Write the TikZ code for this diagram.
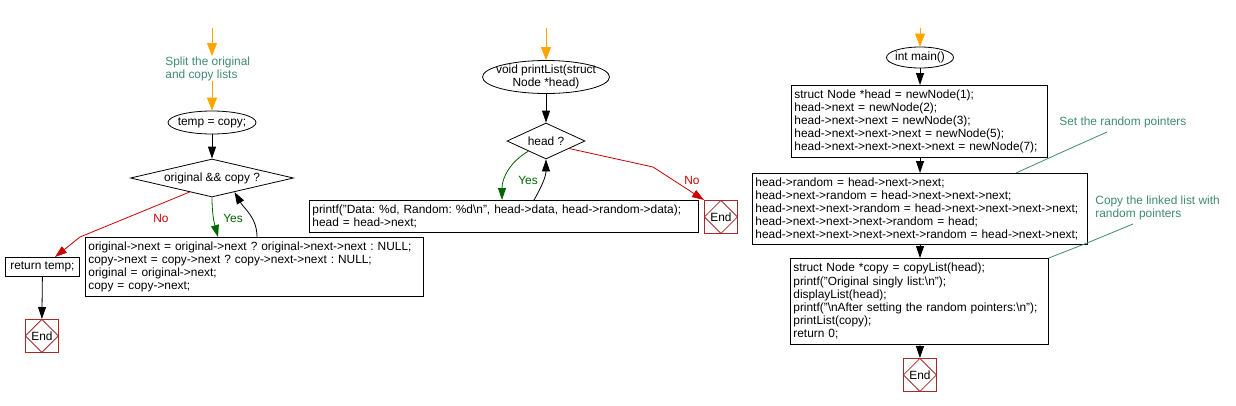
\documentclass[tikz,border=0pt]{standalone}
\usepackage{fontspec}
\setmainfont{Liberation Sans}
\usetikzlibrary{arrows.meta,shapes.geometric,calc}
\definecolor{flowor}{RGB}{255,165,0}
\definecolor{cmtgreen}{RGB}{61,139,110}
\definecolor{yesgreen}{RGB}{0,100,0}
\definecolor{nored}{RGB}{204,0,0}
\definecolor{endred}{RGB}{165,42,42}
\frenchspacing
\begin{document}
\begin{tikzpicture}[x=1pt,y=-1pt,
  every node/.style={font=\fontsize{11.9}{13.2}\selectfont\frenchspacing},
  procbox/.style={draw, rectangle, anchor=north west, align=left, inner xsep=3pt, inner ysep=0pt},
  plain/.style={rectangle, inner sep=0pt, align=center},
  cond/.style={draw, diamond, inner sep=0pt},
  endbox/.style={draw=endred, rectangle, minimum size=33pt, inner sep=0pt, anchor=north west,
    path picture={\draw[endred] (path picture bounding box.north) -- (path picture bounding box.east) -- (path picture bounding box.south) -- (path picture bounding box.west) -- cycle;}},
  cmt/.style={text=cmtgreen, align=left, inner sep=0pt},
  flow/.style={draw=black, line width=0.8pt, -{Triangle[width=8pt,length=12pt]}},
  startflow/.style={draw=flowor, line width=0.8pt, -{Triangle[width=10pt,length=13pt]}},
  yesflow/.style={draw=yesgreen, line width=0.8pt, -{Triangle[width=8pt,length=12pt]}},
  noflow/.style={draw=nored, line width=0.8pt, -{Triangle[width=8pt,length=12pt]}},
  cmtline/.style={draw=cmtgreen, line width=0.8pt},
  line width=0.8pt]
\useasboundingbox (0,0) rectangle (1236,405);

% ---------------- left column ----------------
\coordinate (s1) at (212,28);
\node[cmt, anchor=north west] (c1) at (165,56) {Split the original\\and copy lists};
\node[plain, minimum width=88pt, minimum height=23pt] (e1) at (212,122.5) {temp = copy;};
\draw (e1.center) ellipse [x radius=44pt, y radius=11.5pt];
\node[cond, aspect=4.3, minimum width=163pt, minimum height=38pt] (d1) at (212,178) {original \&\& copy ?};
\node[procbox, text width=332pt, minimum height=59pt] (b1) at (85,237)
 {original->next = original->next ? original->next->next : NULL;\\
  copy->next = copy->next ? copy->next->next : NULL;\\
  original = original->next;\\
  copy = copy->next;};
\node[draw, rectangle, anchor=north west, minimum width=74pt, minimum height=19pt, inner sep=0pt] (rt) at (5,257) {return temp;};
\node[endbox] (x1) at (25,319) {End};

\draw[startflow] (s1) -- (s1 |- c1.north);
\draw[startflow] (s1 |- c1.south) -- (e1.north);
\draw[flow] (e1.south) -- (d1.north);
\draw[yesflow] (d1.south) to[out=-90,in=105] ($(b1.north west)+(133,0)$);
\node[text=yesgreen] (y1) at (233,218) {Yes};
\draw[flow] ($(b1.north west)+(172,0)$) to[out=90,in=-60] (d1.-32);
\draw[noflow] (d1.-148) -- (80,237) -- ($(rt.north west)+(50,0)$);
\node[text=nored] (n1) at (161,218) {No};
\draw[flow] (rt.south) -- (x1.north);

% ---------------- middle column ----------------
\coordinate (s2) at (546,28);
\node[plain, minimum width=127pt, minimum height=33pt] (e2) at (546,77) {void printList(struct\\Node *head)};
\draw (e2.center) ellipse [x radius=63.5pt, y radius=16.5pt];
\node[cond, aspect=2.2, minimum width=78pt, minimum height=36pt] (d2) at (546,141) {head ?};
\node[procbox, text width=383pt, minimum height=32pt] (b2) at (309,200)
 {printf("Data: \%d, Random: \%d\textbackslash n", head->data, head->random->data);\\
  head = head->next;};
\node[endbox] (x2) at (704,200) {End};

\draw[startflow] (s2) -- (e2.north);
\draw[flow] (e2.south) -- (d2.north);
\draw[yesflow] (d2.-150) to[out=-150,in=90] ($(b2.north west)+(193,0)$);
\node[text=yesgreen] (y2) at (528,180) {Yes};
\draw[flow] ($(b2.north west)+(225,0)$) to[out=60,in=-90] (d2.south);
\draw[noflow] (d2.-18) -- (653,167) -- (x2.north west);
\node[text=nored] (n2) at (692,180) {No};

% ---------------- right column ----------------
\coordinate (s3) at (920,28);
\node[plain, minimum width=67pt, minimum height=21pt] (e3) at (920,57.5) {int main()};
\draw (e3.center) ellipse [x radius=33.5pt, y radius=10.5pt];
\node[procbox, text width=250pt, minimum height=72pt] (r1) at (791,85)
 {struct Node *head = newNode(1);\\
  head->next = newNode(2);\\
  head->next->next = newNode(3);\\
  head->next->next->next = newNode(5);\\
  head->next->next->next->next = newNode(7);};
\node[procbox, text width=329pt, minimum height=71pt] (r2) at (752,173)
 {head->random = head->next->next;\\
  head->next->random = head->next->next->next;\\
  head->next->next->random = head->next->next->next->next;\\
  head->next->next->next->random = head;\\
  head->next->next->next->next->random = head->next->next;};
\node[procbox, text width=252pt, minimum height=86pt] (r3) at (790,258)
 {struct Node *copy = copyList(head);\\
  printf("Original singly list:\textbackslash n");\\
  displayList(head);\\
  printf("\textbackslash nAfter setting the random pointers:\textbackslash n");\\
  printList(copy);\\
  return 0;};
\node[endbox] (x3) at (903,358) {End};

\draw[startflow] (s3) -- (e3.north);
\draw[flow] (e3.south) -- (r1.north -| e3.south);
\draw[flow] (r1.south -| e3.south) -- (r2.north -| e3.south);
\draw[flow] (r2.south -| e3.south) -- (r3.north -| e3.south);
\draw[flow] (r3.south -| e3.south) -- (x3.north);

\node[cmt, anchor=west] (c2) at (1059,122) {Set the random pointers};
\draw[cmtline] (1107,132) -- (1060,153) -- ($(r2.north west)+(264,0)$);
\node[cmt, anchor=north west] (c3) at (1095,195) {Copy the linked list with\\random pointers};
\draw[cmtline] (1133,224) -- (1087,243) -- (r3.north east);
\end{tikzpicture}
\end{document}
